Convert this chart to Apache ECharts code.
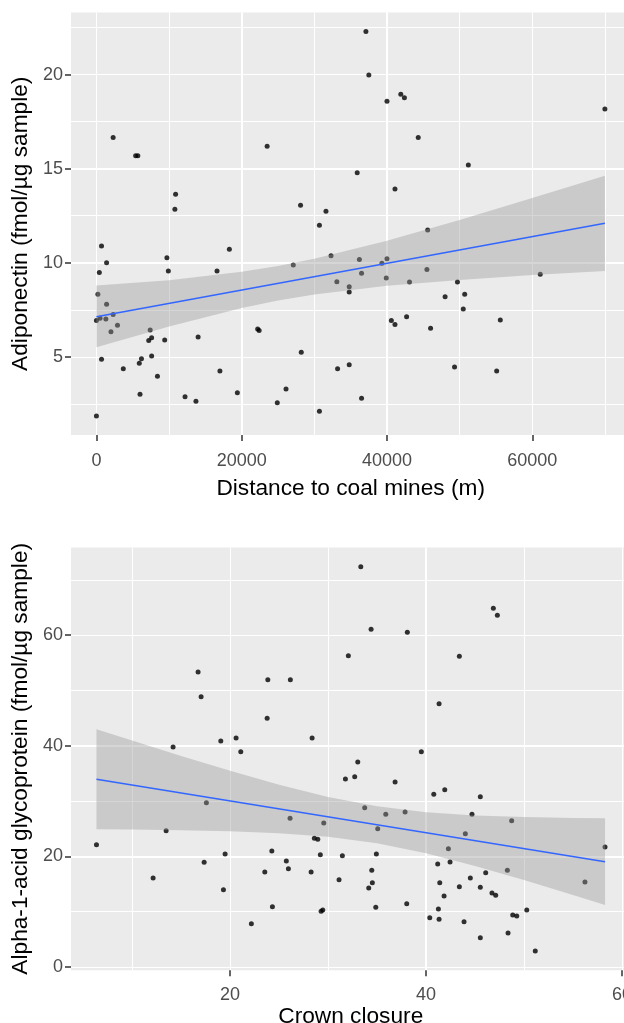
<!DOCTYPE html>
<html>
<head>
<meta charset="utf-8">
<title>Adiponectin and AGP scatter plots</title>
<script src="https://cdn.jsdelivr.net/npm/echarts@6.0.0/dist/echarts.min.js"></script>
<style>
  html, body { margin: 0; padding: 0; background: #fff; }
  #chart { width: 624px; height: 1023px; }
</style>
</head>
<body>
<div id="chart"></div>
<script>
// top panel: adiponectin vs distance to coal mines
const distX = [2300, 5400, 5700, 23500, 10900, 10800, 28100, 31600, 37100, 37500,
  40000, 41900, 42400, 70000, 44300, 51200, 35900, 41100, 700, 1400,
  400, 200, 1400, 0, 500, 1300, 2300, 2900, 2000, 700,
  3700, 5900, 6200, 6000, 7400, 7600, 7200, 7600, 8400, 9700,
  9900, 9400, 12200, 13700, 16600, 18300, 14000, 17000, 19400, 22200,
  22400, 27100, 28200, 24900, 26100, 30700, 32300, 33100, 34800, 34800,
  33200, 34800, 30700, 0, 45600, 36200, 40000, 39300, 36500, 39900,
  45500, 43100, 49700, 61100, 48000, 50700, 50500, 40600, 41100, 42700,
  46000, 55600, 49300, 55100, 36500];
const adipoY = [16.65, 15.69, 15.69, 16.19, 13.64, 12.84, 13.06, 12.74, 22.28, 19.98,
  18.58, 18.95, 18.77, 18.17, 16.65, 15.20, 14.79, 13.92, 10.89, 10.01,
  9.48, 8.33, 7.80, 6.93, 7.06, 7.02, 7.25, 6.68, 6.34, 4.88,
  4.38, 4.67, 4.91, 3.02, 6.43, 6.02, 5.87, 5.05, 3.98, 10.27,
  9.57, 5.90, 2.89, 2.65, 9.57, 10.72, 6.06, 4.26, 3.10, 6.49,
  6.40, 9.89, 5.25, 2.57, 3.30, 11.99, 10.38, 9.00, 8.73, 8.45,
  4.38, 4.59, 2.12, 1.87, 11.74, 10.17, 10.22, 9.98, 9.45, 9.20,
  9.64, 8.98, 8.98, 9.39, 8.20, 8.33, 7.55, 6.93, 6.72, 7.14,
  6.52, 6.96, 4.47, 4.26, 2.81];
const fitXTop = [0, 70000];
const fitYTop = [7.14, 12.10];
const bandXTop = [0, 10000, 20000, 25000, 30000, 40000, 50000, 60000, 70000];
const bandLoTop = [5.52, 6.62, 7.60, 8.00, 8.32, 8.78, 9.09, 9.35, 9.57];
const bandHiTop = [8.80, 9.08, 9.52, 9.83, 10.21, 11.17, 12.27, 13.44, 14.63];
const xTicksTop = [0, 20000, 40000, 60000];
const yTicksTop = [5, 10, 15, 20];

// bottom panel: alpha-1-acid glycoprotein vs crown closure
const crownX = [32.07, 16.73, 23.85, 26.15, 17.04, 23.78, 28.37, 20.61, 19.05, 14.18,
  21.09, 33.34, 46.87, 47.28, 34.39, 38.09, 43.40, 41.33, 39.52, 31.77,
  17.58, 26.12, 29.56, 13.47, 6.36, 28.60, 28.95, 24.26, 19.49, 29.21,
  31.46, 17.35, 25.74, 25.95, 23.54, 28.27, 12.14, 31.12, 19.32, 24.32,
  29.29, 29.46, 22.17, 33.03, 32.72, 36.84, 40.79, 41.91, 45.54, 33.74,
  35.89, 37.86, 44.69, 48.74, 35.07, 44.01, 42.28, 58.27, 34.93, 41.19,
  42.45, 34.46, 34.52, 34.15, 46.09, 48.30, 41.40, 44.52, 43.40, 45.54,
  46.73, 47.11, 41.84, 56.22, 34.87, 38.03, 41.26, 40.38, 41.33, 43.88,
  48.85, 49.26, 50.28, 45.54, 48.37, 51.15];
const agpY = [56.29, 53.35, 51.95, 51.95, 48.88, 44.97, 41.41, 41.41, 40.87, 39.78,
  38.93, 72.39, 64.86, 63.60, 61.07, 60.52, 56.18, 47.61, 38.93, 34.00,
  29.71, 26.89, 26.04, 24.65, 22.12, 23.27, 23.09, 20.98, 20.43, 20.31,
  20.13, 18.93, 19.17, 17.78, 17.18, 17.18, 16.09, 15.79, 13.98, 10.90,
  10.07, 10.31, 7.83, 37.07, 34.41, 33.45, 31.23, 32.06, 30.80, 28.81,
  27.61, 28.03, 27.61, 26.46, 25.01, 24.10, 21.39, 21.70, 20.43, 18.63,
  18.99, 17.49, 15.24, 14.29, 17.05, 17.49, 15.24, 16.09, 14.52, 14.41,
  13.38, 12.97, 12.84, 15.37, 10.80, 11.45, 10.49, 8.92, 8.63, 8.19,
  9.40, 9.22, 10.31, 5.30, 6.15, 2.89];
const fitXBot = [6.36, 58.27];
const fitYBot = [33.94, 19.04];
const bandXBot = [6.36, 10, 15, 20, 25, 30, 35, 40, 45, 50, 55, 58.27];
const bandLoBot = [24.89, 24.85, 24.74, 24.55, 24.20, 23.56, 22.38, 20.57, 18.28, 15.72, 13.01, 11.21];
const bandHiBot = [42.99, 40.93, 38.16, 35.49, 32.96, 30.74, 29.04, 27.99, 27.40, 27.10, 26.93, 26.87];
const xTicksBot = [20, 40, 60];
const yTicksBot = [0, 20, 40, 60];

const FONT = "'Liberation Sans', Arial, sans-serif";

const zip = (a, b) => a.map((v, i) => [v, b[i]]);

// ggplot-like axis: white major grid, ticks and labels only at the given breaks
function majorAxis(grid, min, max, step, ticks, name, nameGap, labelMargin) {
  return {
    type: 'value', gridIndex: grid, min: min, max: max,
    minInterval: step, maxInterval: step,
    axisLine: { show: false, onZero: false },
    axisTick: { show: true, customValues: ticks, length: 6, lineStyle: { color: '#333333', width: 1.5 } },
    axisLabel: {
      customValues: ticks, margin: labelMargin, color: '#4D4D4D',
      fontSize: 18, fontFamily: FONT, formatter: v => String(v)
    },
    splitLine: { show: true, showMinLine: false, showMaxLine: false, lineStyle: { color: '#FFFFFF', width: 2 } },
    name: name, nameLocation: 'middle', nameGap: nameGap,
    nameTextStyle: { color: '#000000', fontSize: 22.7, fontFamily: FONT }
  };
}

function minorAxis(grid, min, max, step, pos) {
  return {
    type: 'value', gridIndex: grid, min: min, max: max, position: pos,
    minInterval: step, maxInterval: step,
    axisLine: { show: false, onZero: false },
    axisTick: { show: false },
    axisLabel: { show: false },
    splitLine: { show: true, showMinLine: false, showMaxLine: false, lineStyle: { color: '#FFFFFF', width: 1 } }
  };
}

function band(xs, lo, hi, axis) {
  return {
    type: 'custom', xAxisIndex: axis, yAxisIndex: axis, z: 3, silent: true,
    data: xs.map((x, i) => [x, lo[i], hi[i]]),
    encode: { x: 0, y: [1, 2] },
    renderItem: function (params, api) {
      if (params.dataIndex !== 0) return null;
      const pts = [];
      xs.forEach((x, i) => pts.push(api.coord([x, hi[i]])));
      for (let i = xs.length - 1; i >= 0; i--) pts.push(api.coord([xs[i], lo[i]]));
      return { type: 'polygon', shape: { points: pts }, style: { fill: 'rgba(153,153,153,0.4)' } };
    }
  };
}

function points(xs, ys, axis) {
  return {
    type: 'scatter', xAxisIndex: axis, yAxisIndex: axis, z: 2,
    symbol: 'circle', symbolSize: 5,
    itemStyle: { color: '#000000' },
    data: zip(xs, ys)
  };
}

function fitLine(xs, ys, axis) {
  return {
    type: 'line', xAxisIndex: axis, yAxisIndex: axis, z: 4,
    showSymbol: false, symbol: 'none',
    lineStyle: { color: '#3366FF', width: 1.6 },
    data: zip(xs, ys)
  };
}

const chart = echarts.init(document.getElementById('chart'), null, { renderer: 'canvas' });

// panels run a few pixels past the right edge, as in the cropped original
chart.setOption({
  animation: false,
  backgroundColor: '#FFFFFF',
  grid: [
    { left: 71, top: 12.4, width: 559.4, height: 422.7, show: true, backgroundColor: '#EBEBEB', borderWidth: 0,
      outerBoundsMode: 'none', containLabel: false },
    { left: 71, top: 547.4, width: 559.5, height: 422.8, show: true, backgroundColor: '#EBEBEB', borderWidth: 0,
      outerBoundsMode: 'none', containLabel: false }
  ],
  xAxis: [
    majorAxis(0, -3500, 73510, 20000, xTicksTop, 'Distance to coal mines (m)', 42, 17),
    minorAxis(0, -3500, 73510, 10000, 'bottom'),
    majorAxis(1, 3.76, 60.87, 20, xTicksBot, 'Crown closure', 30, 16),
    minorAxis(1, 3.76, 60.87, 10, 'bottom')
  ],
  yAxis: [
    majorAxis(0, 0.85, 23.3, 5, yTicksTop, 'Adiponectin (fmol/µg sample)', 37, 8),
    minorAxis(0, 0.85, 23.3, 2.5, 'left'),
    majorAxis(1, -0.585, 75.87, 20, yTicksBot, 'Alpha-1-acid glycoprotein (fmol/µg sample)', 37, 8),
    minorAxis(1, -0.585, 75.87, 10, 'left')
  ],
  series: [
    points(distX, adipoY, 0),
    band(bandXTop, bandLoTop, bandHiTop, 0),
    fitLine(fitXTop, fitYTop, 0),
    points(crownX, agpY, 2),
    band(bandXBot, bandLoBot, bandHiBot, 2),
    fitLine(fitXBot, fitYBot, 2)
  ]
});
</script>
</body>
</html>
